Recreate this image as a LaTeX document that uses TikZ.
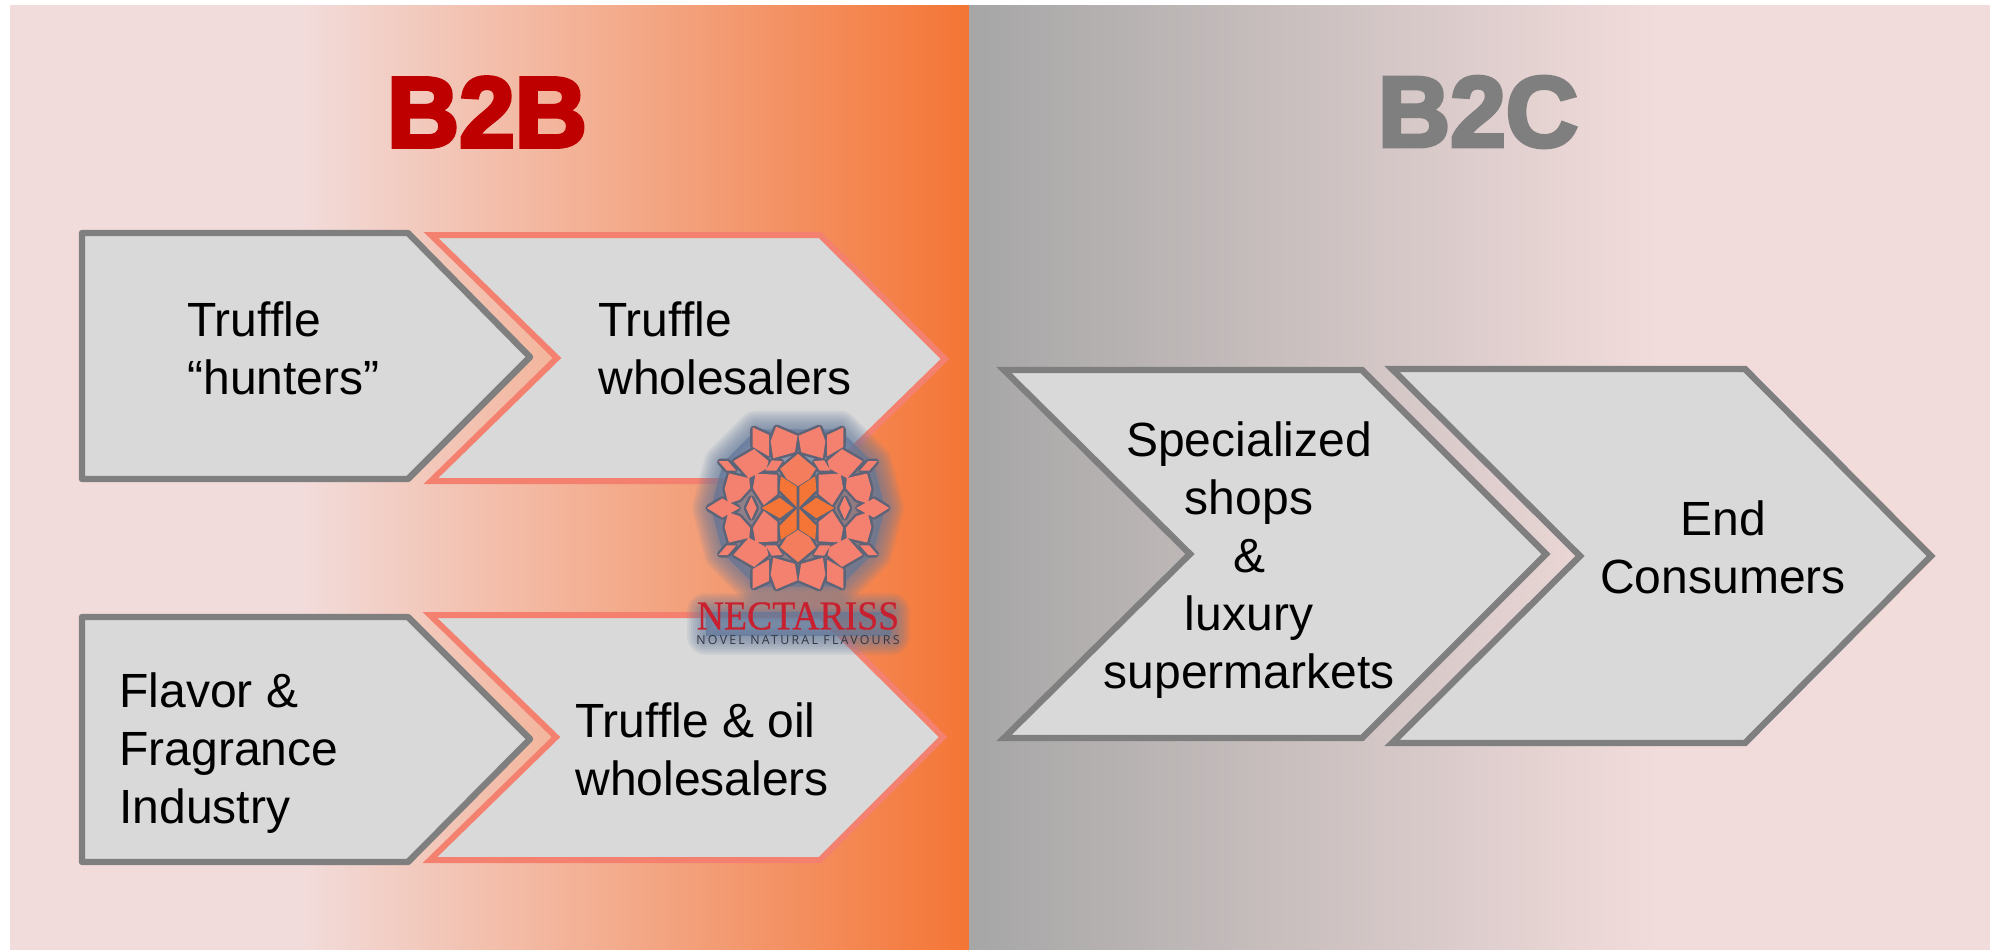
\documentclass[tikz,border=0pt]{standalone}
\usepackage{fontspec}
\setmainfont{Liberation Sans}
\newfontfamily\headfont[BoldFeatures={FakeBold=4}]{Liberation Sans}
\newfontfamily\logofont[FakeBold=.6]{Liberation Serif}
\newfontfamily\tagfont[LetterSpace=18]{Open Sans}
\usetikzlibrary{arrows,positioning}
\definecolor{paleRose}{HTML}{F2DCDB}
\definecolor{midOrange}{HTML}{F47535}
\definecolor{panelGrey}{HTML}{A6A6A6}
\definecolor{chevGrey}{HTML}{D9D9D9}
\definecolor{lineGrey}{HTML}{7F7F7F}
\definecolor{salmon}{HTML}{F4806F}
\definecolor{glow}{HTML}{62789C}
\definecolor{logoSlate}{HTML}{5E6478}
\definecolor{logoRed}{HTML}{C8202F}
% one quarter of the rosette, units are 1/3 px
\newcommand{\quarterpetals}{%
  (5,-215) -- (64,-240) -- (79,-200) -- (72,-153) -- (12,-170) -- cycle
  (90,-217) -- (133,-237) -- (133,-185) -- (90,-160) -- cycle
  (92,-140) -- (132,-173) -- (189,-140) -- (147,-93) -- (97,-120) -- cycle
  (52,-138) -- (77,-140) -- (92,-115) -- (67,-115) -- cycle
  (192,-115) -- (212,-138) -- (232,-138) -- (212,-115) -- cycle
  (65,-97) -- (125,-100) -- (132,-60) -- (102,-13) -- (65,-43) -- cycle
  (149,-87) -- (205,-100) -- (217,-57) -- (207,-17) -- (177,-27) -- (147,-60) -- cycle}
\newcommand{\innerpetal}{(7,-63) -- (49,-90) -- (52,-55) -- (7,-10) -- cycle}
\newcommand{\toppetal}{(0,-158) -- (49,-117) -- (32,-90) -- (0,-70) -- (-32,-90) -- (-49,-117) -- cycle}
\newcommand{\sidepetals}{%
  (182,0) -- (227,-25) -- (267,0) -- (227,24) -- cycle
  (140,-27) -- (152,0) -- (140,25) -- (128,0) -- cycle}
\newcommand{\sideinner}{(55,-27) -- (102,0) -- (57,25) -- (19,0) -- cycle}
\newcommand{\rosettehull}{(-125,-235) -- (125,-235) -- (225,-135) -- (260,0) -- (225,135) -- (125,235) -- (-125,235) -- (-225,135) -- (-260,0) -- (-225,-135) -- cycle}
\begin{document}
\begin{tikzpicture}[x=0.5pt,y=-0.5pt]
  \tikzstyle{greychev}=[draw=lineGrey,fill=chevGrey,line width=3.2pt,line join=round]
  \tikzstyle{rightchev}=[draw=lineGrey,fill=chevGrey,line width=3.2pt,line join=miter,miter limit=10]
  \tikzstyle{salmonchev}=[draw=salmon,fill=chevGrey,line width=3pt,line join=miter,miter limit=10]
  \tikzstyle{label}=[font=\fontsize{24}{29}\selectfont,inner sep=0pt,text=black]
  \tikzstyle{heading}=[font=\headfont\bfseries\fontsize{50}{56}\selectfont,inner sep=0pt]
  \tikzstyle{haze}=[draw=glow,fill=glow,opacity=.1,line join=round]
  \useasboundingbox (0,0) rectangle (1990,949);
  % panels
  \fill[paleRose] (10,5) rectangle (969,960);
  \shade[left color=paleRose,right color=midOrange] (300,5) rectangle (969,960);
  \fill[paleRose] (969,5) rectangle (1995,960);
  \shade[left color=panelGrey,right color=paleRose] (969,5) rectangle (1660,960);
  % B2B side
  \draw[salmonchev] (431,235) -- (820,235) -- (945,359) -- (820,481) -- (431,481) -- (557,358) -- cycle;
  \draw[greychev] (82,233) -- (408,233) -- (530,357) -- (408,479) -- (82,479) -- cycle;
  \draw[salmonchev] (430,615) -- (820,615) -- (943,737) -- (820,860) -- (430,860) -- (556,737) -- cycle;
  \draw[greychev] (82,617) -- (408,617) -- (530,739) -- (408,862) -- (82,862) -- cycle;
  % B2C side
  \draw[rightchev] (1004,370) -- (1362,370) -- (1546,554) -- (1362,738) -- (1004,738) -- (1190,554) -- cycle;
  \draw[rightchev] (1392,369) -- (1745,369) -- (1931,556) -- (1745,743) -- (1392,743) -- (1580,556) -- cycle;
  % headings
  \node[heading,text=red!75!black] (b2b) at (487,112) {B2B};
  \node[heading,text=lineGrey] (b2c) at (1478,112) {B2C};
  % labels
  \node[label,anchor=west,align=left] (hunters) at (187,348) {Truffle\\“hunters”};
  \node[label,anchor=west,align=left] (truffleW) at (598,348) {Truffle\\wholesalers};
  \node[label,anchor=west,align=left] (flavor) at (119,753) {Flavor \&\\Fragrance\\Industry};
  \node[label,anchor=west,align=left] (oilW) at (575,749) {Truffle \& oil\\wholesalers};
  \node[label,align=center] (shops) at (1249,560) {Specialized\\shops\\\&\\luxury\\supermarkets};
  \node[label,align=center] (consumers) at (1723,547) {End\\Consumers};
  % logo glow
  \foreach \w in {1,3,...,19} {
    \path[haze,line width=\w pt] (706,612) rectangle (891,636);
    \begin{scope}[shift={(798,508)},scale=.3333]
      \path[haze,line width=\w pt] \rosettehull;
    \end{scope}
  }
  % logo rosette
  \begin{scope}[shift={(798,508)},scale=.3333]
    \foreach \sx/\sy in {1/1,-1/1,1/-1,-1/-1} {
      \begin{scope}[xscale=\sx,yscale=\sy]
        \path[draw=logoSlate,fill=logoSlate,line width=3.5pt,line join=round] \quarterpetals \innerpetal \toppetal \sidepetals \sideinner;
      \end{scope}
    }
    \foreach \sx/\sy in {1/1,-1/1,1/-1,-1/-1} {
      \begin{scope}[xscale=\sx,yscale=\sy]
        \path[fill=salmon,draw=salmon,line width=1pt] \quarterpetals \sidepetals;
        \path[fill=salmon!70!midOrange,draw=salmon!70!midOrange,line width=1pt] \toppetal;
        \path[fill=midOrange,draw=midOrange,line width=1pt] \innerpetal \sideinner;
      \end{scope}
    }
  \end{scope}
  \node[inner sep=0pt,text=logoRed,font=\logofont\fontsize{20.5}{22}\selectfont,xscale=.92] (logoName) at (798,616) {NECTARISS};
  \node[inner sep=0pt,text=logoSlate!55!black,font=\tagfont\fontsize{6.2}{7}\selectfont] (logoTag) at (798,640) {NOVEL NATURAL FLAVOURS};
\end{tikzpicture}
\end{document}
